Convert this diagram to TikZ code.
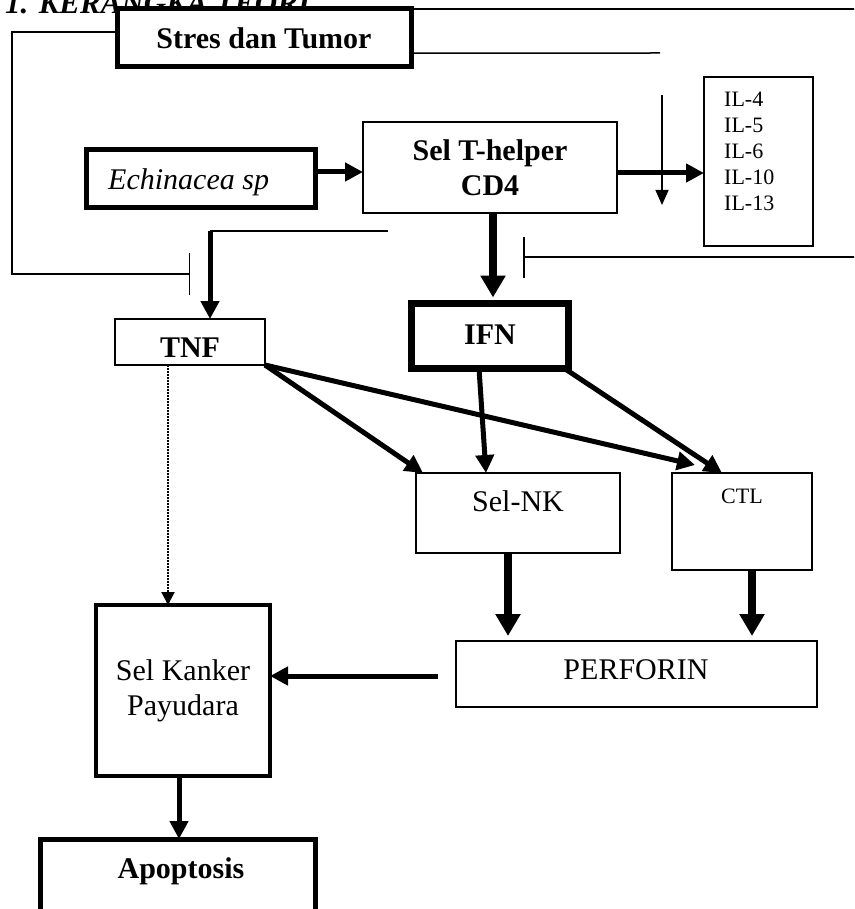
\documentclass[tikz,border=0pt]{standalone}
\usepackage{fontspec}
\setmainfont{Liberation Serif}
\usetikzlibrary{arrows.meta,calc}

\begin{document}
\begin{tikzpicture}[x=1pt,y=-1pt,
  box/.style={draw, fill=white, rectangle, inner sep=0pt, outer sep=0pt, line width=2pt},
  heavybox/.style={box, line width=5pt},
  thinline/.style={line width=1.5pt},
  fat/.style={line width=5pt, -{Triangle[length=18pt,width=18pt]}},
  fatter/.style={line width=7.5pt, -{Triangle[length=22pt,width=24pt]}},
  txt/.style={inner sep=0pt, anchor=base},
  bigb/.style={font=\fontsize{30}{35}\selectfont\bfseries},
  bigr/.style={font=\fontsize{30}{35}\selectfont},
  bigi/.style={font=\fontsize{30}{35}\selectfont\itshape},
  smallr/.style={font=\fontsize{22}{26}\selectfont},
  inhibit/.style={thinline, -{Bar[width=42pt, line width=1.5pt]}},
]
\useasboundingbox (0,0) rectangle (854,909);
\clip (0,0) rectangle (854,909);

% heading
\node[txt, anchor=base west, font=\fontsize{31}{36}\selectfont\bfseries\itshape] (title) at (5,14) {1. KERANGKA TEORI};

% boxes
\node[heavybox, minimum width=294pt, minimum height=58pt, bigb] (stres) at (264,38) {Stres dan Tumor};
\node[heavybox, minimum width=229pt, minimum height=58pt] (ech) at (200.5,179) {};
\node[txt, anchor=base west, bigi] (echtext) at (108,190) {Echinacea sp};
\node[box, minimum width=254pt, minimum height=91pt, bigb, align=center] (th) at (490,167.5) {Sel T-helper\\CD4};
\node[box, minimum width=109pt, minimum height=169pt] (il) at (758.5,161.5) {};
\node[inner sep=0pt, anchor=north west, align=left, smallr] (iltext) at (724,92) {IL-4\\IL-5\\IL-6\\IL-10\\IL-13};
\node[box, minimum width=150pt, minimum height=46pt] (tnf) at (190,342) {};
\node[txt, bigb] (tnftext) at (190,357) {TNF};
\node[box, line width=7pt, minimum width=157pt, minimum height=65pt] (ifn) at (490,336) {};
\node[txt, bigb] (ifntext) at (490,344) {IFN};
\node[box, minimum width=204pt, minimum height=80pt] (nk) at (518,513) {};
\node[txt, bigr] (nktext) at (518,511) {Sel-NK};
\node[box, minimum width=140pt, minimum height=97pt] (ctl) at (742,521.5) {};
\node[txt, smallr] (ctltext) at (742,503) {CTL};
\node[box, minimum width=361pt, minimum height=66pt] (perf) at (636.5,674) {};
\node[txt, bigr] (perftext) at (636,679) {PERFORIN};
\node[box, line width=4pt, minimum width=174pt, minimum height=171pt, bigr, align=center] (kanker) at (183,690.5) {Sel Kanker\\Payudara};
\node[heavybox, minimum width=275pt, minimum height=122pt] (apop) at (177.5,900) {};
\node[txt, bigb] (apoptext) at (181,878) {Apoptosis};

% stress and tumour lines
\coordinate (stresL) at ($(stres.north west)!0.4!(stres.south west)$);
\coordinate (leftrail) at (12,274);
\coordinate (tnfbar) at (190,274);
\draw[inhibit] (stresL) -| (leftrail) -- (tnfbar);
\draw[thinline] (stres.north east) -- ++(460,0);
\coordinate (stresR) at ($(stres.north east)!0.76!(stres.south east)$);
\coordinate (midcut) at (660,53);
\draw[thinline] (stresR) -- (midcut);
\coordinate (ildropA) at (662,95);
\coordinate (ildropB) at (662,205);
\draw[thinline, -{Triangle[length=15pt,width=13pt]}] (ildropA) -- (ildropB);
\coordinate (ifnrail) at (860,257);
\coordinate (ifnbar) at (523,257);
\draw[inhibit, -{Bar[width=41pt, line width=1.5pt]}] (ifnrail) -- (ifnbar);

% T-helper pathways
\coordinate (tnffeed) at (388,231);
\coordinate (tnfdrop) at (210,231);
\draw[thinline] (tnffeed) -- (tnfdrop);
\draw[fat] (tnfdrop) -- (tnfdrop |- tnf.north);
\draw[fat] ([yshift=7pt]ech.east) -- ([yshift=7pt]ech.east -| th.west);
\draw[fat] ([yshift=-5.5pt]th.east) -- ([yshift=-5.5pt]th.east -| il.west);
\draw[fatter] ([xshift=3pt]th.south) -- ([xshift=3pt,yshift=6pt]ifn.north);

% cytokines to effector cells
\draw[fat] (tnf.south east) -- ([xshift=7pt]nk.north west);
\draw[fat] (tnf.south east) -- ([xshift=23pt,yshift=8pt]ctl.north west);
\draw[fat] ([xshift=-11pt]ifn.south) -- ([xshift=-32pt]nk.north);
\draw[fat] ([xshift=-4pt]ifn.south east) -- ([xshift=50pt]ctl.north west);

% effector cells to perforin
\draw[fatter] ([xshift=-10pt]nk.south) -- ([xshift=-10pt,yshift=5pt]nk.south |- perf.north);
\draw[fatter] ([xshift=10pt]ctl.south) -- ([xshift=10pt,yshift=5pt]ctl.south |- perf.north);

% towards the cancer cell
\coordinate (perfout) at ($(perf.west)+(-18,2)$);
\draw[fat] (perfout) -- (perfout -| kanker.east);
\draw[line width=2pt, dash pattern=on 1.5pt off 1.5pt, -{Triangle[length=13pt,width=13pt]}] ([xshift=-22pt]tnf.south) -- ([xshift=-22pt]tnf.south |- kanker.north);
\draw[fat] ([xshift=-4pt]kanker.south) -- ([xshift=-4pt]kanker.south |- apop.north);
\end{tikzpicture}
\end{document}
